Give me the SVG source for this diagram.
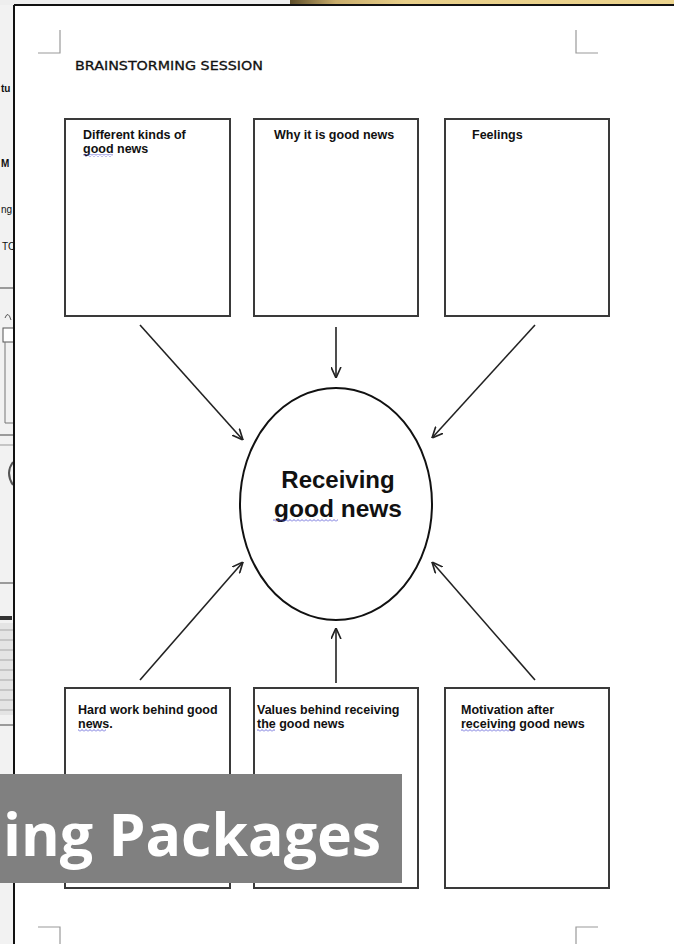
<svg xmlns="http://www.w3.org/2000/svg" width="674" height="944" viewBox="0 0 674 944">
<defs>
<style>
.box{fill:#fff;stroke:#3a3a3a;stroke-width:2}
.lbl{font-family:"Liberation Sans",Arial,sans-serif;font-weight:bold;font-size:12.5px;fill:#111}
.conn{stroke:#222;stroke-width:1.6;fill:none}
.corner{stroke:#9a9a9a;stroke-width:1.2;fill:none}
.sq{fill:url(#wave)}
.strip{font-family:"Liberation Sans",Arial,sans-serif;font-size:10px;fill:#111}
</style>
<marker id="ah" viewBox="0 0 10 10" refX="10" refY="5" markerWidth="11" markerHeight="11" markerUnits="userSpaceOnUse" orient="auto">
<path d="M0,0.5 L10,5 L0,9.5" fill="none" stroke="#222" stroke-width="1.5"/>
</marker>
<pattern id="wave" width="4" height="3" patternUnits="userSpaceOnUse">
<path d="M0,2.5 L2,0.5 L4,2.5" fill="none" stroke="#4a4ad0" stroke-width="0.8"/>
</pattern>
<linearGradient id="gold" x1="0" y1="0" x2="1" y2="0">
<stop offset="0" stop-color="#5e4e2a"/>
<stop offset="0.12" stop-color="#c9ad6c"/>
<stop offset="0.3" stop-color="#e8cf8a"/>
<stop offset="1" stop-color="#ecd48e"/>
</linearGradient>
</defs>

<!-- background -->
<rect x="0" y="0" width="674" height="944" fill="#fff"/>
<rect x="0" y="0" width="14" height="944" fill="#f2f2f2"/>
<rect x="0" y="0" width="674" height="5" fill="#eeeeee"/>
<rect x="290" y="0" width="384" height="5" fill="url(#gold)"/>

<!-- left strip fragments -->
<g id="left-strip">
<text class="strip" x="1" y="92" font-weight="bold">tu</text>
<text class="strip" x="1" y="167" font-weight="bold">M</text>
<text class="strip" x="1" y="213">ng</text>
<text class="strip" x="2" y="250" fill="#666" font-size="9">TC</text>
<line x1="0" y1="288" x2="14" y2="288" stroke="#444" stroke-width="1"/>
<path d="M11,320 Q8,310 5,318" fill="none" stroke="#555" stroke-width="1"/>
<rect x="3" y="328" width="11" height="14" fill="#fff" stroke="#555" stroke-width="1"/>
<path d="M5,342 V423 H14" fill="none" stroke="#777" stroke-width="1"/>
<line x1="0" y1="435" x2="14" y2="435" stroke="#444" stroke-width="1"/>
<line x1="0" y1="445" x2="14" y2="445" stroke="#999" stroke-width="1"/>
<path d="M13,462 Q5,473 13,485" fill="none" stroke="#555" stroke-width="2"/>
<line x1="0" y1="583" x2="14" y2="583" stroke="#444" stroke-width="1"/>
<rect x="0" y="616" width="12" height="4" fill="#333"/>
<rect x="0" y="623" width="14" height="92" fill="#e4e4e4"/>
<g stroke="#a8a8a8" stroke-width="1">
<line x1="0" y1="630" x2="14" y2="630"/><line x1="0" y1="640" x2="14" y2="640"/><line x1="0" y1="650" x2="14" y2="650"/><line x1="0" y1="660" x2="14" y2="660"/><line x1="0" y1="670" x2="14" y2="670"/><line x1="0" y1="680" x2="14" y2="680"/><line x1="0" y1="690" x2="14" y2="690"/><line x1="0" y1="700" x2="14" y2="700"/><line x1="0" y1="710" x2="14" y2="710"/>
</g>
<line x1="0" y1="725" x2="14" y2="725" stroke="#444" stroke-width="1"/>
</g>

<!-- page border -->
<line x1="14" y1="5" x2="674" y2="5" stroke="#111" stroke-width="2"/>
<line x1="14" y1="5" x2="14" y2="944" stroke="#111" stroke-width="2"/>

<!-- corner marks -->
<g id="corners">
<path class="corner" d="M38,53 H60 V30"/>
<path class="corner" d="M576,30 V53 H598"/>
<path class="corner" d="M38,927 H60 V944"/>
<path class="corner" d="M576,944 V927 H598"/>
</g>

<g id="title">
<text x="75" y="70" font-family="'DejaVu Sans',sans-serif" font-size="12.5" fill="#111" stroke="#111" stroke-width="0.3" textLength="188" lengthAdjust="spacingAndGlyphs">BRAINSTORMING SESSION</text>
</g>

<!-- connectors -->
<g id="connectors">
<line class="conn" x1="140" y1="325" x2="243" y2="440" marker-end="url(#ah)"/>
<line class="conn" x1="336" y1="327" x2="336" y2="378" marker-end="url(#ah)"/>
<line class="conn" x1="535" y1="325" x2="432" y2="438" marker-end="url(#ah)"/>
<line class="conn" x1="140" y1="680" x2="243" y2="562" marker-end="url(#ah)"/>
<line class="conn" x1="336" y1="683" x2="336" y2="628" marker-end="url(#ah)"/>
<line class="conn" x1="535" y1="680" x2="432" y2="562" marker-end="url(#ah)"/>
</g>

<!-- top boxes -->
<g id="box-different-kinds">
<rect class="box" x="65" y="119" width="165" height="197"/>
<text class="lbl" x="83" y="139">Different kinds of</text>
<text class="lbl" x="83" y="153">good news</text>
<rect class="sq" x="83" y="154" width="30" height="3"/>
</g>
<g id="box-why-good">
<rect class="box" x="254" y="119" width="164" height="197"/>
<text class="lbl" x="274" y="139">Why it is good news</text>
</g>
<g id="box-feelings">
<rect class="box" x="445" y="119" width="164" height="197"/>
<text class="lbl" x="472" y="139">Feelings</text>
</g>

<!-- center -->
<g id="center">
<ellipse cx="336" cy="504" rx="96" ry="116" fill="#fff" stroke="#111" stroke-width="2"/>
<text x="338" y="488" text-anchor="middle" font-family="'Liberation Sans',Arial,sans-serif" font-weight="bold" font-size="24" fill="#111">Receiving</text>
<text x="338" y="517" text-anchor="middle" font-family="'Liberation Sans',Arial,sans-serif" font-weight="bold" font-size="24.5" fill="#111">good news</text>
<rect class="sq" x="273" y="519" width="65" height="3"/>
</g>

<!-- bottom boxes -->
<g id="box-hard-work">
<rect class="box" x="65" y="688" width="165" height="200"/>
<text class="lbl" x="78" y="714">Hard work behind good</text>
<text class="lbl" x="78" y="728">news.</text>
<rect class="sq" x="78" y="729" width="28" height="3"/>
</g>
<g id="box-values">
<rect class="box" x="254" y="688" width="164" height="200"/>
<text class="lbl" x="257" y="714">Values behind receiving</text>
<text class="lbl" x="257" y="728">the good news</text>
<rect class="sq" x="257" y="729" width="18" height="3"/>
</g>
<g id="box-motivation">
<rect class="box" x="445" y="688" width="164" height="200"/>
<text class="lbl" x="461" y="714">Motivation after</text>
<text class="lbl" x="461" y="728">receiving good news</text>
<rect class="sq" x="461" y="729" width="54" height="3"/>
</g>

<!-- banner overlay -->
<g id="banner">
<rect x="0" y="774" width="402" height="109" fill="#808080"/>
<text x="3" y="856" font-family="'Open Sans',sans-serif" font-weight="bold" font-size="59" fill="#fff">ing Packages</text>
</g>
</svg>
